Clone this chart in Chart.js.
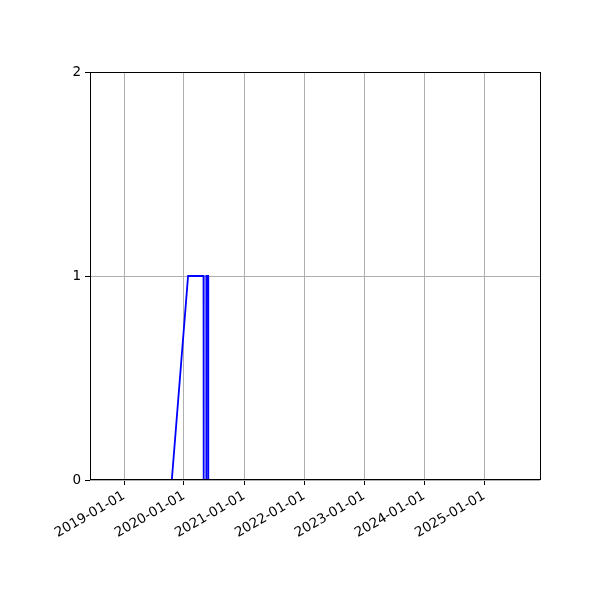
<!DOCTYPE html>
<html>
<head>
<meta charset="utf-8">
<script src="https://cdn.jsdelivr.net/npm/chart.js@4"></script>
<style>
  html, body { margin: 0; padding: 0; background: #fff; }
  #wrap { width: 600px; height: 600px; }
</style>
</head>
<body>
<div id="wrap"><canvas id="chart" width="600" height="600"></canvas></div>
<script>
// --- Datos (fechas y valores) ---
const dates = [
  "2018-06-08", "2019-10-19", "2020-01-26", "2020-04-29", "2020-04-30",
  "2020-05-15", "2020-05-16", "2020-05-27", "2020-05-28", "2025-12-07",
];
const values = [0, 0, 1, 1, 0, 0, 1, 1, 0, 0];
const tickDates = [
  "2019-01-01", "2020-01-01", "2021-01-01", "2022-01-01",
  "2023-01-01", "2024-01-01", "2025-01-01",
];
const yTicks = [0, 1, 2];
const xMinDate = "2018-06-08";
const xMaxDate = "2025-12-07";

const toMs = (d) => Date.parse(d + "T00:00:00Z");
const fmtDate = (ms) => new Date(ms).toISOString().slice(0, 10);

const points = dates.map((d, i) => ({ x: toMs(d), y: values[i] }));

// Marco completo alrededor del área del gráfico (estilo matplotlib)
const framePlugin = {
  id: "frame",
  afterDraw(chart) {
    const { ctx, chartArea: a } = chart;
    ctx.save();
    ctx.strokeStyle = "#000";
    ctx.lineWidth = 1;
    ctx.strokeRect(a.left + 0.5, a.top + 0.5, a.right - a.left, a.bottom - a.top - 1);
    ctx.restore();
  },
};

const font = { family: "'DejaVu Sans', sans-serif", size: 13.5 };

new Chart(document.getElementById("chart").getContext("2d"), {
  type: "line",
  data: {
    datasets: [
      {
        data: points,
        borderColor: "#0000ff",
        borderWidth: 1.8,
        pointRadius: 0,
        tension: 0,
        fill: false,
      },
    ],
  },
  options: {
    responsive: false,
    animation: false,
    events: [],
    layout: { padding: { top: 72, right: 60, left: 0, bottom: 0 } },
    plugins: { legend: { display: false }, tooltip: { enabled: false } },
    scales: {
      x: {
        type: "linear",
        min: toMs(xMinDate),
        max: toMs(xMaxDate),
        afterBuildTicks: (scale) => {
          scale.ticks = tickDates.map((d) => ({ value: toMs(d) }));
        },
        afterFit: (scale) => { scale.height = 120; },
        grid: { color: "#b0b0b0", lineWidth: 1, tickColor: "#000", tickLength: 5, tickWidth: 1 },
        border: { display: false },
        ticks: {
          color: "#000",
          font,
          padding: 3,
          minRotation: 30,
          maxRotation: 30,
          autoSkip: false,
          callback: (v) => fmtDate(v),
        },
      },
      y: {
        min: 0,
        max: 2,
        afterBuildTicks: (scale) => {
          scale.ticks = yTicks.map((v) => ({ value: v }));
        },
        afterFit: (scale) => { scale.width = 90; },
        grid: { color: "#b0b0b0", lineWidth: 1, tickColor: "#000", tickLength: 5, tickWidth: 1 },
        border: { display: false },
        ticks: { color: "#000", font, padding: 4 },
      },
    },
  },
  plugins: [framePlugin],
});
</script>
</body>
</html>
